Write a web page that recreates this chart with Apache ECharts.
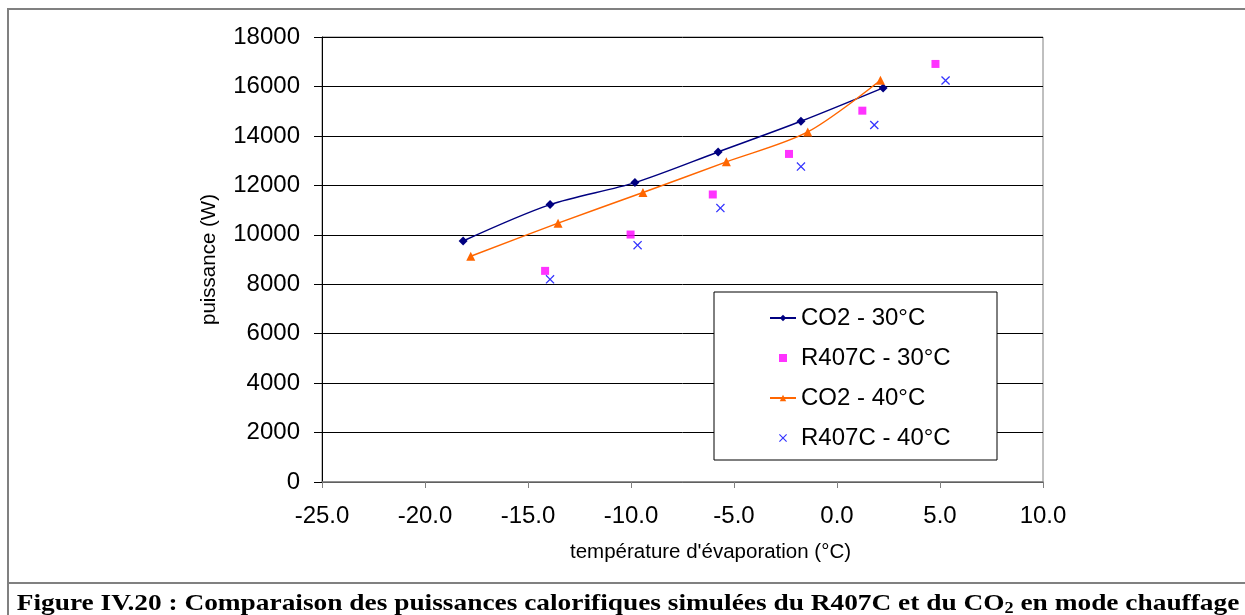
<!DOCTYPE html>
<html>
<head>
<meta charset="utf-8">
<script src="https://cdn.jsdelivr.net/npm/echarts@6/dist/echarts.min.js"></script>
<style>
html,body{margin:0;padding:0;background:#fff;}
#chart{width:1245px;height:615px;}
</style>
</head>
<body>
<div id="chart"></div>
<script>
// Data
var co2_30_x = [-18.15, -13.93, -9.81, -5.77, -1.75, 2.24];
var co2_30_y = [9750, 11220, 12110, 13350, 14590, 15940];
var r407c_30_x = [-14.17, -10.02, -6.03, -2.33, 1.23, 4.78];
var r407c_30_y = [8540, 10010, 11630, 13270, 15020, 16910];
var co2_40_x = [-17.78, -13.54, -9.42, -5.37, -1.42, 2.11];
var co2_40_y = [9130, 10470, 11710, 12950, 14160, 16250];
var r407c_40_x = [-13.93, -9.68, -5.66, -1.75, 1.81, 5.27];
var r407c_40_y = [8200, 9580, 11080, 12760, 14440, 16240];

var seriesNames = ['CO2 - 30°C', 'R407C - 30°C', 'CO2 - 40°C', 'R407C - 40°C'];
var xTickMin = -25, xTickMax = 10, xTickStep = 5;
var yTickMin = 0, yTickMax = 18000, yTickStep = 2000;
var xTitle = "température d'évaporation (°C)";
var yTitle = 'puissance (W)';

function pairs(xs, ys) { return xs.map(function (x, i) { return [x, ys[i]]; }); }

var crossPath = 'path://M0,1 L1,0 L5,4 L9,0 L10,1 L6,5 L10,9 L9,10 L5,6 L1,10 L0,9 L4,5 Z';
var squarePath = 'path://M0,0 H10 V10 H0 Z';
var font = 'Liberation Sans, Arial, sans-serif';

var chart = echarts.init(document.getElementById('chart'));
chart.setOption({
  backgroundColor: '#fff',
  animation: false,
  grid: { left: 322, right: 202, top: 37, bottom: 133, show: true, borderColor: '#808080', borderWidth: 1 },
  xAxis: {
    type: 'value', min: xTickMin, max: xTickMax, interval: xTickStep,
    name: xTitle, nameLocation: 'middle', nameGap: 60,
    nameTextStyle: { fontFamily: font, fontSize: 20.5, color: '#000', padding: [0, 0, 0, 56] },
    axisLine: { onZero: false, lineStyle: { color: '#808080', width: 1.5 } },
    axisTick: { show: true, inside: false, length: 6, lineStyle: { color: '#808080' } },
    axisLabel: { fontFamily: font, fontSize: 24, color: '#000', margin: 22,
      formatter: function (v) { return v.toFixed(1); } },
    splitLine: { show: false }
  },
  yAxis: {
    type: 'value', min: yTickMin, max: yTickMax, interval: yTickStep,
    name: yTitle, nameLocation: 'middle', nameGap: 102,
    nameTextStyle: { fontFamily: font, fontSize: 20.5, color: '#000' },
    axisLine: { show: true, onZero: false, lineStyle: { color: '#000', width: 1 } },
    axisTick: { show: true, inside: false, length: 8, lineStyle: { color: '#000' } },
    axisLabel: { fontFamily: font, fontSize: 24, color: '#000', margin: 22,
      formatter: function (v) { return String(v); } },
    splitLine: { show: true, lineStyle: { color: '#000', width: 1 } }
  },
  legend: {
    orient: 'vertical', left: 764, top: 301, z: 80,
    itemWidth: 26, itemHeight: 8, itemGap: 16, symbolKeepAspect: true,
    textStyle: { fontFamily: font, fontSize: 24, color: '#000', lineHeight: 24 },
    data: [
      { name: seriesNames[0] },
      { name: seriesNames[1], icon: squarePath },
      { name: seriesNames[2] },
      { name: seriesNames[3], icon: crossPath }
    ]
  },
  graphic: [
    { type: 'rect', shape: { x: 8, y: 9, width: 1250, height: 574 }, style: { fill: 'none', stroke: '#808080', lineWidth: 2 }, silent: true, z: -1 },
    { type: 'line', shape: { x1: 8, y1: 583, x2: 8, y2: 620 }, style: { stroke: '#808080', lineWidth: 2 }, silent: true },
    { type: 'rect', shape: { x: 714, y: 292, width: 283, height: 168 }, style: { fill: '#fff', stroke: '#000', lineWidth: 1 }, z: 50, silent: true },
    { type: 'text', x: 628, y: 604, scaleX: 1.14,
      style: { x: 0, y: 0, textAlign: 'center', textVerticalAlign: 'middle',
        text: 'Figure IV.20 : Comparaison des puissances calorifiques simulées du R407C et du CO{sub|2} en mode chauffage',
        font: 'bold 24px "Liberation Serif", "Times New Roman", serif', fill: '#000',
        rich: { sub: { font: 'bold 16px "Liberation Serif", serif', verticalAlign: 'bottom', padding: [9, 0, 0, 0] } } }, silent: true }
  ],
  series: [
    { name: seriesNames[0], type: 'line', data: pairs(co2_30_x, co2_30_y), smooth: 0.3,
      symbol: 'diamond', symbolSize: 9, itemStyle: { color: '#000080' }, lineStyle: { color: '#000080', width: 1.5 } },
    { name: seriesNames[1], type: 'scatter', data: pairs(r407c_30_x, r407c_30_y),
      symbol: 'rect', symbolSize: 8, itemStyle: { color: '#FF00FF' } },
    { name: seriesNames[2], type: 'line', data: pairs(co2_40_x, co2_40_y), smooth: 0.3,
      symbol: 'triangle', symbolSize: 9, itemStyle: { color: '#FF6600' }, lineStyle: { color: '#FF6600', width: 1.5 } },
    { name: seriesNames[3], type: 'scatter', data: pairs(r407c_40_x, r407c_40_y),
      symbol: crossPath, symbolSize: 9, itemStyle: { color: '#0000FF' } }
  ]
});
</script>
</body>
</html>
